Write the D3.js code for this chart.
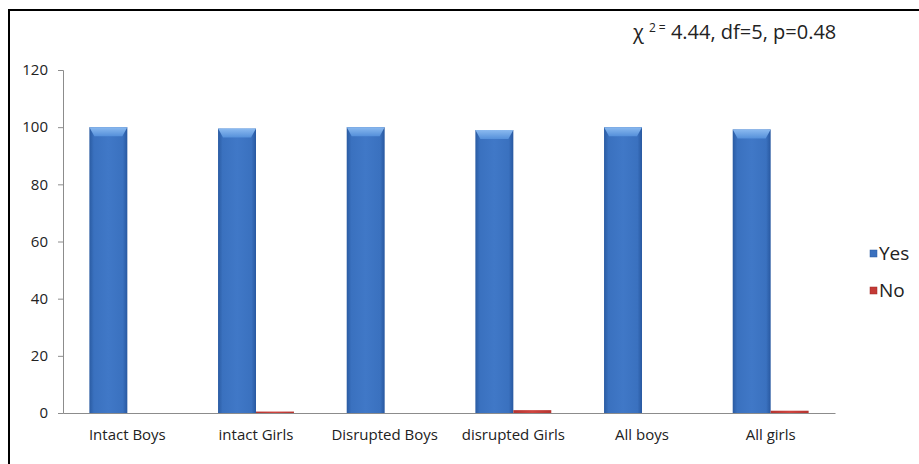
<!DOCTYPE html>
<html><head><meta charset="utf-8">
<script src="https://cdn.jsdelivr.net/npm/d3@7"></script>
<style>body{margin:0;background:#fff;} svg{display:block;}</style>
</head><body>
<script>
const categories = ["Intact Boys","intact Girls","Disrupted Boys","disrupted Girls","All boys","All girls"];
const series = ["Yes","No"];
const yesValues = [100, 99.5, 100, 99, 100, 99.2];
const noValues = [0, 0.5, 0, 1, 0, 0.8];
const yTicks = [0,20,40,60,80,100,120];
const annotation = "4.44, df=5, p=0.48";

const W=919,H=464;
const svg=d3.select("body").append("svg").attr("width",W).attr("height",H);
const defs=svg.append("defs");
function grad(id,stops){
  const g=defs.append("linearGradient").attr("id",id).attr("x1","0").attr("x2","1").attr("y1","0").attr("y2","0");
  stops.forEach(s=>g.append("stop").attr("offset",s[0]).attr("stop-color",s[1]));
}
grad("gBlue",[[0,"#2a5ba2"],[0.12,"#3a71bf"],[0.5,"#4078c7"],[0.88,"#3a71bf"],[1,"#2858a0"]]);
grad("gRed",[[0,"#b53430"],[0.5,"#d0443f"],[1,"#b53430"]]);
const gTop=defs.append("linearGradient").attr("id","gTop").attr("x1","0").attr("x2","0").attr("y1","0").attr("y2","1");
gTop.append("stop").attr("offset",0).attr("stop-color","#8bbaf0");
gTop.append("stop").attr("offset",1).attr("stop-color","#5590da");

// frame
svg.append("path").attr("d","M9,470 L9,10 L930,10").attr("fill","none").attr("stroke","#000").attr("stroke-width",2);

const x0=d3.scaleBand().domain(categories).range([63,835]).paddingInner(0.41).paddingOuter(0.205);
const x1=d3.scaleBand().domain(series).range([0,x0.bandwidth()]);
const y=d3.scaleLinear().domain([0,120]).range([413,70]);

const font="'Open Sans', sans-serif";
// y axis
const ya=svg.append("g").attr("transform","translate(63,0)").call(d3.axisLeft(y).tickValues(yTicks).tickSize(5).tickPadding(10));
ya.select(".domain").attr("stroke","#8c8c8c");
ya.selectAll(".tick line").attr("stroke","#8c8c8c");
ya.selectAll("text").attr("font-family",font).attr("font-size",15).attr("fill","#222");

const data=categories.map((c,i)=>({c,vals:[yesValues[i],noValues[i]]}));
const groups=svg.append("g").selectAll("g").data(data).join("g").attr("transform",d=>`translate(${x0(d.c)},0)`);
groups.each(function(d){
  const g=d3.select(this);
  const bw=x1.bandwidth();
  const yv=d.vals[0];
  if(yv>0){
    g.append("rect").attr("x",x1("Yes")).attr("y",y(yv)).attr("width",bw).attr("height",y(0)-y(yv)).attr("fill","url(#gBlue)");
    const xl=x1("Yes"), yt=y(yv);
    g.append("path").attr("d",`M${xl},${yt} L${xl+bw},${yt} L${xl+bw-5},${yt+9} L${xl+5},${yt+9} Z`).attr("fill","url(#gTop)");
  }
  const nv=d.vals[1];
  if(nv>0){
    g.append("rect").attr("x",x1("No")).attr("y",y(nv)).attr("width",bw).attr("height",y(0)-y(nv)).attr("fill","url(#gRed)");
  }
});

// x axis
const xa=svg.append("g").attr("transform","translate(0,413)").call(d3.axisBottom(x0).tickSize(0).tickPadding(16));
xa.select(".domain").attr("stroke","#8c8c8c");
xa.selectAll("text").attr("font-family",font).attr("font-size",15).attr("fill","#222");

// legend
const leg=svg.append("g").selectAll("g").data(series).join("g").attr("transform",(d,i)=>`translate(870,${250+i*37})`);
leg.append("rect").attr("width",7).attr("height",7).attr("fill",(d,i)=>i?"#c43a36":"#3a70be").attr("stroke",(d,i)=>i?"#9c2a27":"#2a5aa0").attr("stroke-width",0.5);
leg.append("text").attr("x",9).attr("y",10).attr("font-family",font).attr("font-size",19).attr("fill","#222").text(d=>d);

// annotation
const t=svg.append("text").attr("x",633).attr("y",39).attr("font-family",font).attr("font-size",20).attr("fill","#222");
t.append("tspan").text("χ");
t.append("tspan").attr("font-size",12).attr("dx",5).attr("dy",-7).text("2 =");
t.append("tspan").attr("dx",0).attr("dy",7).text(" "+annotation);
</script>
</body></html>
